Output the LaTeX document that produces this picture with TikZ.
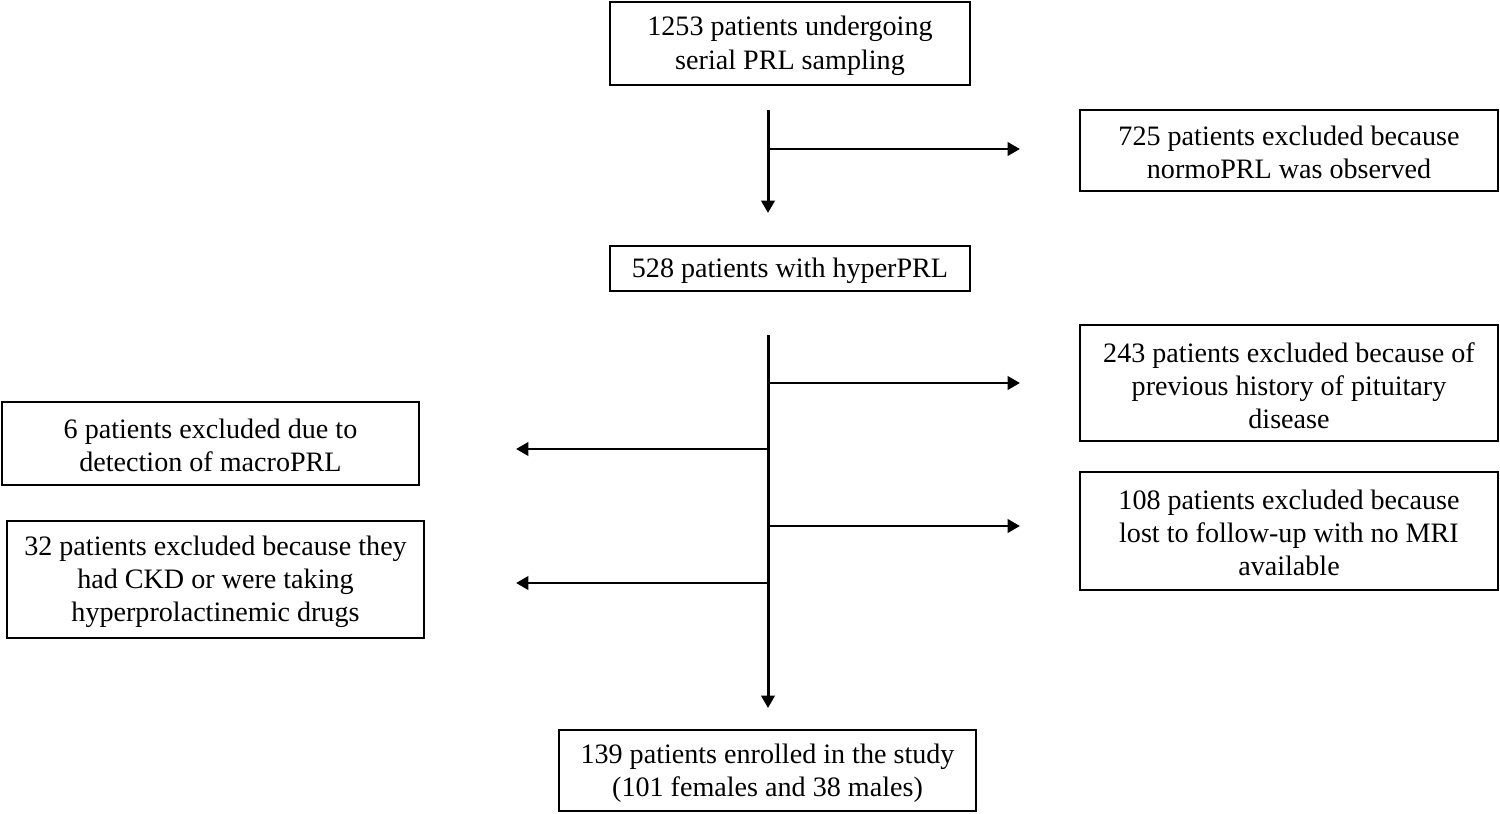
\documentclass[tikz,border=0pt]{standalone}
\usepackage{fontspec}
\setmainfont{Liberation Serif}
\usetikzlibrary{arrows.meta}
\begin{document}
\begin{tikzpicture}[x=0.02cm,y=-0.02cm,
  box/.style={draw,line width=1pt,inner sep=0pt},
  txt/.style={inner sep=0pt,align=center,yshift=-1.3pt,font=\fontsize{16}{18.8}\selectfont},
  arr/.style={line width=1.7pt,-{Triangle[length=7pt,width=7.5pt]}}]
\useasboundingbox (0,0) rectangle (1500,814);
% boxes
\node[box,minimum width=7.2cm,minimum height=1.66cm,label={[txt]center:{1253 patients undergoing\\serial PRL sampling}}] (b1) at (790,43.5) {};
\node[box,minimum width=8.36cm,minimum height=1.62cm,label={[txt]center:{725 patients excluded because\\normoPRL was observed}}] (r1) at (1289,150.5) {};
\node[box,minimum width=7.2cm,minimum height=0.9cm,label={[txt]center:{528 patients with hyperPRL}}] (b2) at (790,268.5) {};
\node[box,minimum width=8.36cm,minimum height=2.32cm,label={[txt]center:{243 patients excluded because of\\previous history of pituitary\\disease}}] (r2) at (1289,383) {};
\node[box,minimum width=8.36cm,minimum height=2.36cm,label={[txt]center:{108 patients excluded because\\lost to follow-up with no MRI\\available}}] (r3) at (1289,531) {};
\node[box,minimum width=8.34cm,minimum height=1.66cm,label={[txt]center:{6 patients excluded due to\\detection of macroPRL}}] (l1) at (210.5,443.5) {};
\node[box,minimum width=8.34cm,minimum height=2.34cm,label={[txt]center:{32 patients excluded because they\\had CKD or were taking\\hyperprolactinemic drugs}}] (l2) at (215.5,579.5) {};
\node[box,minimum width=8.34cm,minimum height=1.62cm,label={[txt]center:{139 patients enrolled in the study\\(101 females and 38 males)}}] (b3) at (767.5,770.5) {};
% connector coordinates
\coordinate (s1) at (768,110);
\coordinate (e1) at (768,213);
\coordinate (j1) at (768,149);
\coordinate (a1) at (1020,149);
\coordinate (s2) at (768,335);
\coordinate (e2) at (768,708);
\coordinate (j2) at (768,383);
\coordinate (a2) at (1020,383);
\coordinate (j3) at (768,526);
\coordinate (a3) at (1020,526);
\coordinate (j4) at (768,449);
\coordinate (a4) at (516,449);
\coordinate (j5) at (768,583);
\coordinate (a5) at (516,583);
% connectors
\draw[arr] (s1) -- (e1);
\draw[arr] (j1) -- (a1);
\draw[arr] (s2) -- (e2);
\draw[arr] (j2) -- (a2);
\draw[arr] (j3) -- (a3);
\draw[arr] (j4) -- (a4);
\draw[arr] (j5) -- (a5);
\end{tikzpicture}
\end{document}
